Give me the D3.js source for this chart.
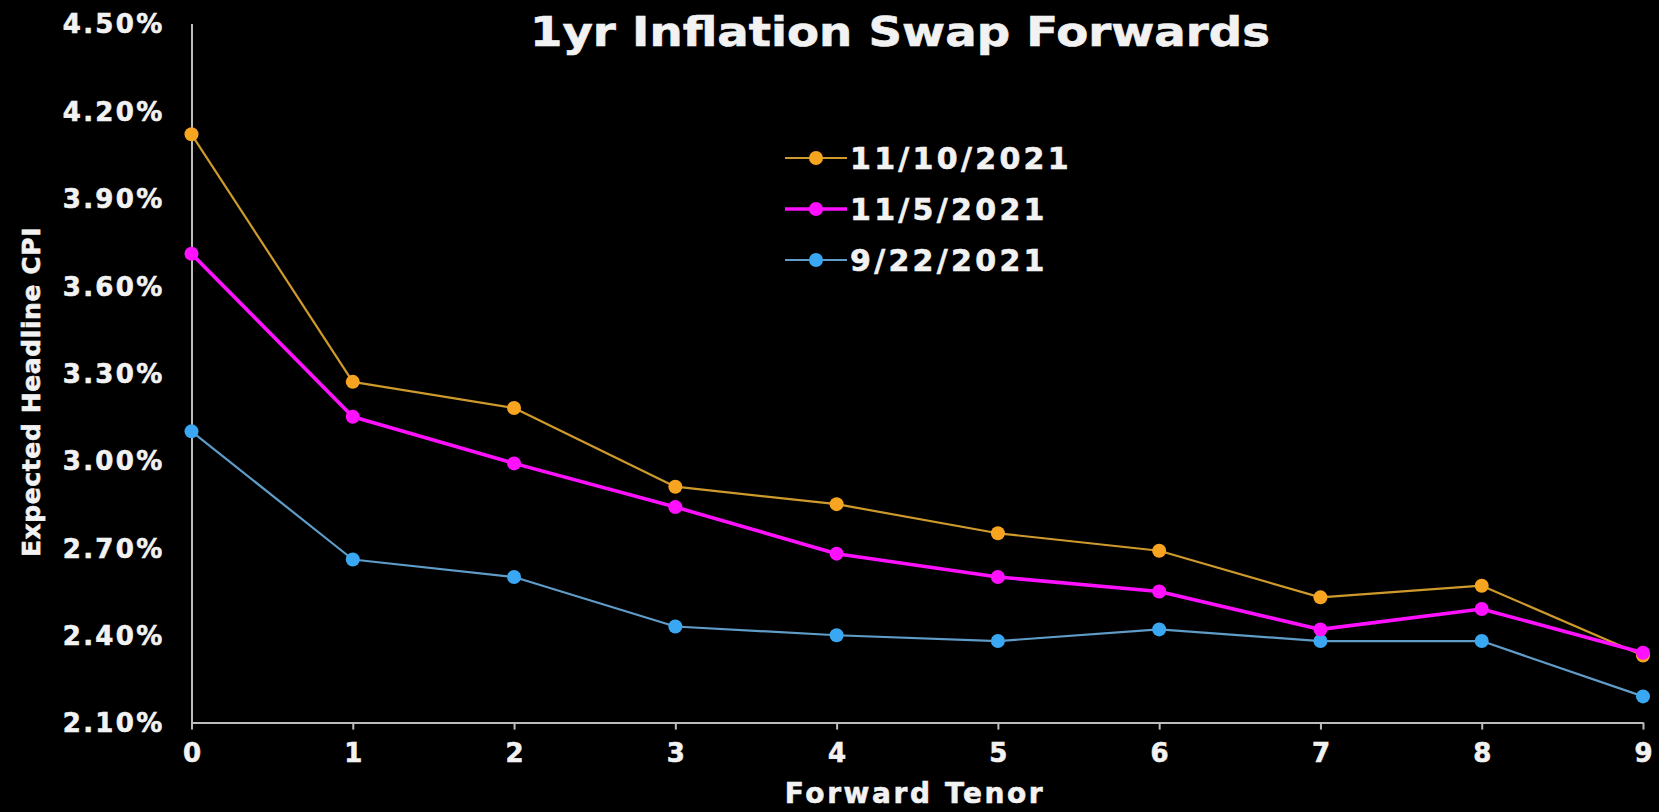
<!DOCTYPE html>
<html>
<head>
<meta charset="utf-8">
<script src="https://cdn.jsdelivr.net/npm/d3@7"></script>
<style>
  html, body { margin: 0; padding: 0; background: #000; }
  svg { display: block; }
  .lbl { font-family: "DejaVu Sans", Verdana, sans-serif; font-weight: bold; fill: #f2f2f2;
         stroke: #f2f2f2; stroke-width: 0.6px; }
</style>
</head>
<body>
<svg id="chart" width="1659" height="812"></svg>
<script>
// Forward tenors (years)
const tenors = [0, 1, 2, 3, 4, 5, 6, 7, 8, 9];

// 1yr forward inflation swap rates, %
const nov10 = [4.12, 3.27, 3.18, 2.91, 2.85, 2.75, 2.69, 2.53, 2.57, 2.33];
const nov5  = [3.71, 3.15, 2.99, 2.84, 2.68, 2.60, 2.55, 2.42, 2.49, 2.34];
const sep22 = [3.10, 2.66, 2.60, 2.43, 2.40, 2.38, 2.42, 2.38, 2.38, 2.19];

const yTicks = [2.10, 2.40, 2.70, 3.00, 3.30, 3.60, 3.90, 4.20, 4.50];

const seriesNames = ["11/10/2021", "11/5/2021", "9/22/2021"];

const series = [
  { name: seriesNames[0], values: nov10, line: "#cf9a2c", dot: "#f7a520", width: 2.2 },
  { name: seriesNames[1], values: nov5,  line: "#ff10ff", dot: "#ff10ff", width: 3.6 },
  { name: seriesNames[2], values: sep22, line: "#5f9cc8", dot: "#3aa7f2", width: 2.2 }
];

const svg = d3.select("#chart");
const margin = { left: 191.5, right: 16, top: 23.6, bottom: 89.4 };
const W = 1659, H = 812;

const x = d3.scaleLinear().domain([0, 9]).range([margin.left, W - margin.right]);
const y = d3.scaleLinear().domain([2.10, 4.50]).range([H - margin.bottom, margin.top]);

// Title
svg.append("text")
  .attr("class", "lbl")
  .attr("x", 900).attr("y", 46)
  .attr("text-anchor", "middle")
  .attr("font-size", 40)
  .attr("textLength", 740)
  .attr("lengthAdjust", "spacingAndGlyphs")
  .text("1yr Inflation Swap Forwards");

// Y axis
const yAxis = svg.append("g")
  .attr("transform", `translate(${margin.left},0)`)
  .call(d3.axisLeft(y).tickValues(yTicks).tickSize(0).tickSizeOuter(0)
    .tickFormat(d => d3.format(".2f")(d) + "%"));
yAxis.select(".domain").attr("stroke", "#bdbdbd").attr("stroke-width", 2);
yAxis.selectAll("text")
  .attr("class", "lbl")
  .attr("x", -27)
  .attr("dy", "0.36em")
  .attr("font-size", 26)
  .attr("letter-spacing", 2.3);

// X axis
const xAxis = svg.append("g")
  .attr("transform", `translate(0,${H - margin.bottom})`)
  .call(d3.axisBottom(x).tickValues(tenors).tickSize(7).tickSizeOuter(0).tickFormat(d3.format("d")));
xAxis.select(".domain").attr("stroke", "#bdbdbd").attr("stroke-width", 2);
xAxis.selectAll(".tick line").attr("stroke", "#bdbdbd").attr("stroke-width", 2);
xAxis.selectAll("text")
  .attr("class", "lbl")
  .attr("y", 21)
  .attr("dy", "0.71em")
  .attr("font-size", 26);

// Axis titles
svg.append("text")
  .attr("class", "lbl")
  .attr("x", 915).attr("y", 803)
  .attr("text-anchor", "middle")
  .attr("font-size", 28)
  .attr("letter-spacing", 2.6)
  .text("Forward Tenor");

svg.append("text")
  .attr("class", "lbl")
  .attr("transform", "translate(40,392) rotate(-90)")
  .attr("text-anchor", "middle")
  .attr("font-size", 25)
  .attr("letter-spacing", 0.6)
  .text("Expected Headline CPI");

// Series lines and markers (drawn back to front)
const line = d3.line().x((d, i) => x(tenors[i])).y(d => y(d));
const drawOrder = [series[2], series[0], series[1]];
drawOrder.forEach(s => {
  svg.append("path")
    .datum(s.values)
    .attr("fill", "none")
    .attr("stroke", s.line)
    .attr("stroke-width", s.width)
    .attr("stroke-linejoin", "round")
    .attr("d", line);
  svg.append("g").selectAll("circle")
    .data(s.values)
    .join("circle")
    .attr("cx", (d, i) => x(tenors[i]))
    .attr("cy", d => y(d))
    .attr("r", 7)
    .attr("fill", s.dot);
});

// Legend
const legend = svg.append("g");
series.forEach((s, i) => {
  const ly = 158 + i * 51;
  legend.append("line")
    .attr("x1", 785).attr("x2", 847)
    .attr("y1", ly).attr("y2", ly)
    .attr("stroke", s.line)
    .attr("stroke-width", s.width);
  legend.append("circle")
    .attr("cx", 816).attr("cy", ly).attr("r", 7).attr("fill", s.dot);
  legend.append("text")
    .attr("class", "lbl")
    .attr("x", 850).attr("y", ly)
    .attr("dy", "0.36em")
    .attr("font-size", 30)
    .attr("letter-spacing", 3.3)
    .text(s.name);
});
</script>
</body>
</html>
